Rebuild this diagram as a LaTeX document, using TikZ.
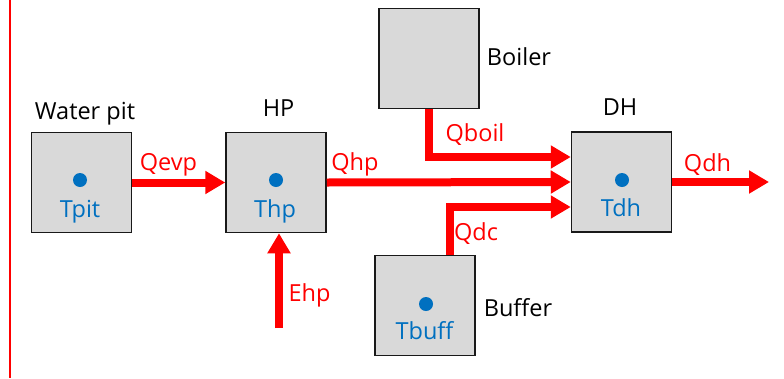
\documentclass[tikz,border=0pt]{standalone}
\usepackage{fontspec}
\setmainfont{Open Sans}
\usetikzlibrary{arrows.meta,calc}
\definecolor{boxgray}{RGB}{217,217,217}
\definecolor{tblue}{RGB}{0,112,192}
\begin{document}
\begin{tikzpicture}[x=1pt,y=-1pt,
  unit/.style={draw=black!90, fill=boxgray, line width=1.5pt, minimum size=100pt, inner sep=0pt},
  flow/.style={draw=red, line width=8pt, -{Triangle[length=20pt,width=22pt]}},
  lbl/.style={font=\fontsize{23.5}{28}\selectfont, anchor=base, inner sep=0pt},
  flbl/.style={lbl, text=red},
  tlbl/.style={lbl, text=tblue},
  dot/.style={circle, fill=tblue, minimum size=14pt, inner sep=0pt}
]
\useasboundingbox (0,0) rectangle (784,378);
\draw[red, line width=2pt] (9.5,0) -- (9.5,378);

% units
\node[unit] (wp) at (81.5,182.5) {};
\node[unit] (hp) at (276,182.5) {};
\node[unit] (boiler) at (429,58.5) {};
\node[unit] (dh) at (621.5,182) {};
\node[unit] (buffer) at (425,305.5) {};

% unit names
\node[lbl] (wpname) at (85,119) {Water pit};
\node[lbl] (hpname) at (278.5,116) {HP};
\node[lbl] (boilername) at (519,65.5) {Boiler};
\node[lbl] (dhname) at (620,115) {DH};
\node[lbl] (buffername) at (518,316.5) {Buffer};

% temperature dots and labels
\node[dot] (wpdot) at (80,180) {};
\node[dot] (hpdot) at (276,180) {};
\node[dot] (dhdot) at (622,180) {};
\node[dot] (buffdot) at (426,304) {};
\node[tlbl] (tpit) at (80,217) {Tpit};
\node[tlbl] (thp) at (275,217) {Thp};
\node[tlbl] (tdh) at (621,216) {Tdh};
\node[tlbl] (tbuff) at (424.5,339) {Tbuff};

% flows
\coordinate (ehpstart) at (279,328);
\coordinate (qdhend) at (769,182);
\draw[flow] (wp.east) -- (hp.west);
\draw[flow] (hp.east) -- (dh.west);
\draw[flow] (boiler.south) |- ($(dh.west)+(0,-25)$);
\draw[flow] ($(buffer.north)+(25,0)$) |- ($(dh.west)+(0,25)$);
\draw[flow] (dh.east) -- (qdhend);
\draw[flow] (ehpstart) -- (ehpstart |- hp.south);

% flow labels
\node[flbl] (qevp) at (168.5,170) {Qevp};
\node[flbl] (qhp) at (355,170) {Qhp};
\node[flbl] (qboil) at (475,141.5) {Qboil};
\node[flbl] (qdh) at (707.5,171) {Qdh};
\node[flbl] (qdc) at (476,240) {Qdc};
\node[flbl] (ehp) at (309.5,301.5) {Ehp};
\end{tikzpicture}
\end{document}
